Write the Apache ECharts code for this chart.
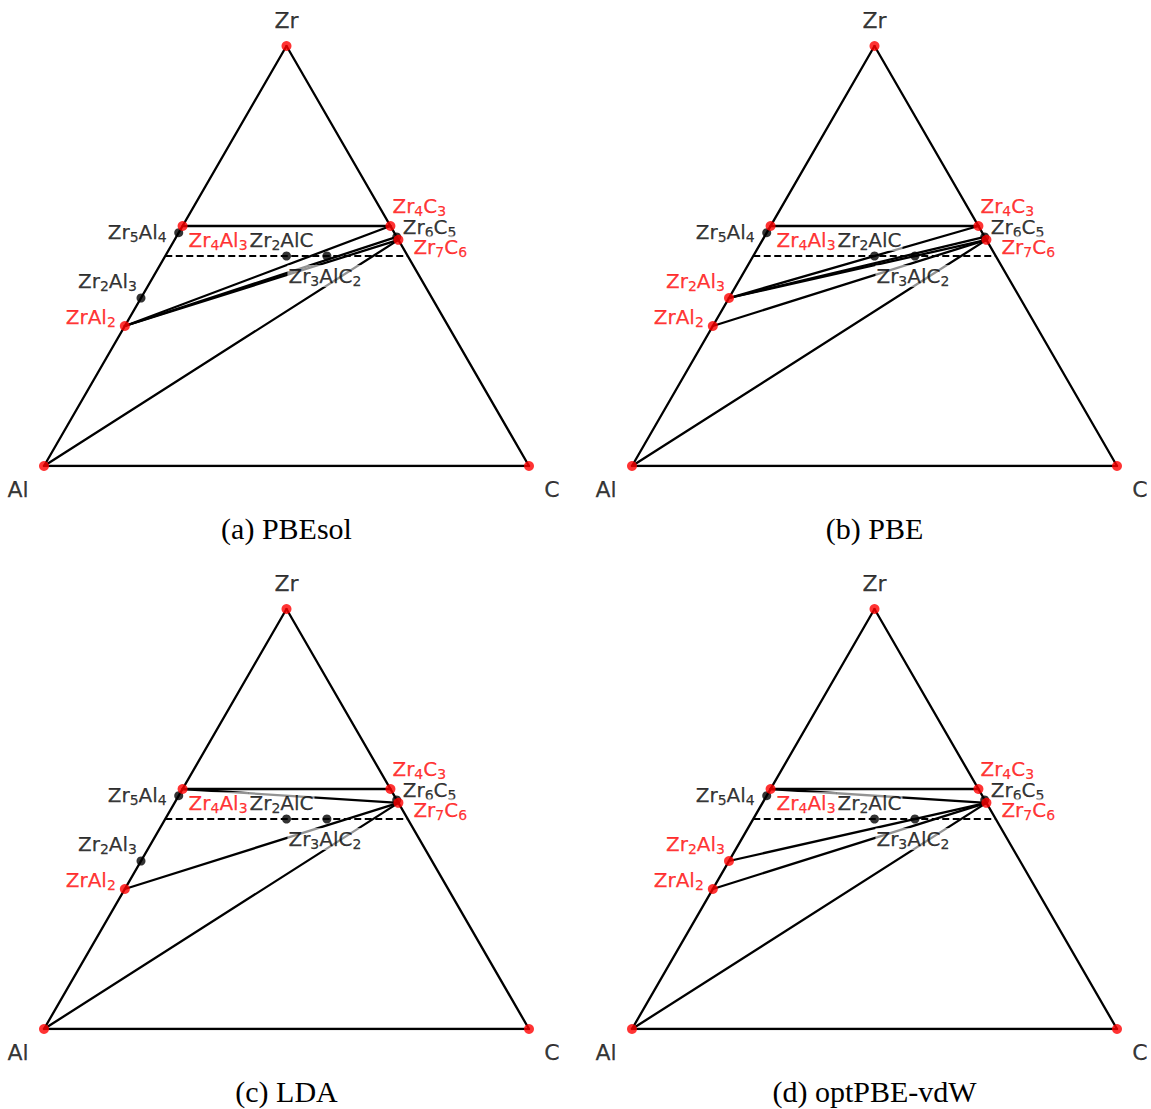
<!DOCTYPE html>
<html>
<head>
<meta charset="utf-8">
<script src="https://cdn.jsdelivr.net/npm/echarts@6/dist/echarts.min.js"></script>
<style>
  html, body { margin: 0; padding: 0; background: #fff; }
  #chart { width: 1151px; height: 1109px; }
</style>
</head>
<body>
<div id="chart"></div>
<script>
// Phases of the Zr–Al–C system and their atom counts (Zr, Al, C)
const phaseNames = ['Zr', 'Al', 'C', 'Zr5Al4', 'Zr4Al3', 'Zr2Al3', 'ZrAl2', 'Zr4C3', 'Zr6C5', 'Zr7C6', 'Zr2AlC', 'Zr3AlC2'];
const phaseZr    = [1, 0, 0, 5, 4, 2, 1, 4, 6, 7, 2, 3];
const phaseAl    = [0, 1, 0, 4, 3, 3, 2, 0, 0, 0, 1, 1];
const phaseC     = [0, 0, 1, 0, 0, 0, 0, 3, 5, 6, 1, 2];

const panelNames = ['(a) PBEsol', '(b) PBE', '(c) LDA', '(d) optPBE-vdW'];

// Phases on the convex hull for each functional
const stablePBEsol  = ['Zr', 'Al', 'C', 'Zr4Al3', 'ZrAl2', 'Zr4C3', 'Zr7C6'];
const stablePBE     = ['Zr', 'Al', 'C', 'Zr4Al3', 'Zr2Al3', 'ZrAl2', 'Zr4C3', 'Zr7C6'];
const stableLDA     = ['Zr', 'Al', 'C', 'Zr4Al3', 'ZrAl2', 'Zr4C3', 'Zr7C6'];
const stableOptPBE  = ['Zr', 'Al', 'C', 'Zr4Al3', 'Zr2Al3', 'ZrAl2', 'Zr4C3', 'Zr7C6'];

// Tie lines for each functional
const tiesPBEsol = [['Zr4Al3', 'Zr4C3'], ['ZrAl2', 'Zr4C3'], ['ZrAl2', 'Zr6C5'], ['ZrAl2', 'Zr7C6'], ['Al', 'Zr7C6']];
const tiesPBE    = [['Zr4Al3', 'Zr4C3'], ['Zr2Al3', 'Zr4C3'], ['Zr2Al3', 'Zr6C5'], ['Zr2Al3', 'Zr7C6'], ['ZrAl2', 'Zr7C6'], ['Al', 'Zr7C6']];
const tiesLDA    = [['Zr4Al3', 'Zr4C3'], ['Zr4Al3', 'Zr7C6'], ['ZrAl2', 'Zr7C6'], ['Al', 'Zr7C6']];
const tiesOptPBE = [['Zr4Al3', 'Zr4C3'], ['Zr4Al3', 'Zr7C6'], ['Zr2Al3', 'Zr7C6'], ['ZrAl2', 'Zr7C6'], ['Al', 'Zr7C6']];

// Triangle edges
const edges = [['Al', 'C'], ['C', 'Zr'], ['Zr', 'Al']];

// Reference line at 50 % Zr: from ZrAl (Zr, Al, C = 1,1,0) to ZrC (1,0,1)
const halfZrFrom = [1, 1, 0];
const halfZrTo   = [1, 0, 1];

const panelStable = [stablePBEsol, stablePBE, stableLDA, stableOptPBE];
const panelTies   = [tiesPBEsol, tiesPBE, tiesLDA, tiesOptPBE];

// ---- layout / styling ----
const gridPos = [[44, 46], [632, 46], [44, 609], [632, 609]];
const GW = 485, GH = 420;
const SQ = Math.sqrt(3) / 2;
const RED = '#ff0000', INK = '#000000';
const LABEL_FONT = 'DejaVu Sans';

// label anchor: [align, dx, dy] relative to the phase point
const labelPlace = {
  Zr: ['center', 0, -26], Al: ['center', -26, 23], C: ['center', 23, 23],
  Zr5Al4: ['right', -11, -1], Zr4Al3: ['left', 5, 14], Zr2Al3: ['right', -3, -17], ZrAl2: ['right', -8, -9],
  Zr4C3: ['left', 1, -20], Zr6C5: ['left', 5, -10], Zr7C6: ['left', 14, 7],
  Zr2AlC: ['center', -5, -16], Zr3AlC2: ['center', -2, 20]
};

function toXY(zr, al, c) {
  const t = zr + al + c;
  return [(c + zr / 2) / t, (zr / t) * SQ];
}
function phaseXY(name) {
  const i = phaseNames.indexOf(name);
  return toXY(phaseZr[i], phaseAl[i], phaseC[i]);
}
function richFormula(name) {
  return name.replace(/([A-Za-z]+)|(\d+)/g, (m, a, d) => a ? '{n|' + a + '}' : '{s|' + d + '}');
}
function richStyles(color, size) {
  const heavy = { textBorderColor: color, textBorderWidth: 0.25 };
  return {
    n: Object.assign({ fontSize: size, fontFamily: LABEL_FONT, color: color, lineHeight: size, verticalAlign: 'top' }, heavy),
    s: Object.assign({ fontSize: 14, fontFamily: LABEL_FONT, color: color, lineHeight: 14, verticalAlign: 'top', padding: [8, 0, 0, 0] }, heavy)
  };
}

const series = [];
const graphic = [];

panelNames.forEach((title, p) => {
  const stable = panelStable[p];
  const axis = { xAxisIndex: p, yAxisIndex: p };

  // solid lines: edges + tie lines
  const segs = edges.concat(panelTies[p]).map(pair => ({ coords: [phaseXY(pair[0]), phaseXY(pair[1])] }));
  series.push(Object.assign({
    type: 'lines', coordinateSystem: 'cartesian2d', silent: true, z: 2,
    lineStyle: { color: '#000', width: 2.3, opacity: 1, cap: 'round' },
    data: segs
  }, axis));

  // dashed 50 % Zr line
  series.push(Object.assign({
    type: 'lines', coordinateSystem: 'cartesian2d', silent: true, z: 2,
    lineStyle: { color: '#000', width: 2, opacity: 1, type: [7, 3.5] },
    data: [{ coords: [toXY.apply(null, halfZrFrom), toXY.apply(null, halfZrTo)] }]
  }, axis));

  // text labels (white translucent box behind formula)
  series.push(Object.assign({
    type: 'scatter', coordinateSystem: 'cartesian2d', silent: true, z: 3,
    symbolSize: 1, itemStyle: { color: 'rgba(0,0,0,0)' },
    data: phaseNames.map(name => {
      const isStable = stable.indexOf(name) >= 0;
      const isVertex = name === 'Zr' || name === 'Al' || name === 'C';
      const color = isVertex ? INK : (isStable ? RED : INK);
      const pl = labelPlace[name];
      return {
        value: phaseXY(name),
        label: {
          show: true, position: 'inside', align: pl[0], verticalAlign: 'middle',
          offset: [pl[1], pl[2]],
          formatter: richFormula(name), rich: richStyles(color, isVertex ? 22 : 20),
          backgroundColor: isVertex ? 'transparent' : 'rgba(255,255,255,0.72)',
          padding: [1, 1]
        }
      };
    })
  }, axis));

  // unstable (black) points, then stable (red) points on top
  series.push(Object.assign({
    type: 'scatter', coordinateSystem: 'cartesian2d', silent: true, z: 4,
    symbolSize: 9, itemStyle: { color: '#000' },
    data: phaseNames.filter(n => stable.indexOf(n) < 0).map(phaseXY)
  }, axis));
  series.push(Object.assign({
    type: 'scatter', coordinateSystem: 'cartesian2d', silent: true, z: 5,
    symbolSize: 10, itemStyle: { color: RED },
    data: stable.map(phaseXY)
  }, axis));

  graphic.push({
    type: 'text', silent: true,
    x: gridPos[p][0] + GW / 2, y: gridPos[p][1] + GH + 62,
    style: {
      text: title, fill: '#000', fontSize: 30, fontFamily: 'Liberation Serif',
      align: 'center', verticalAlign: 'middle', textAlign: 'center', textVerticalAlign: 'middle'
    }
  });
});

const option = {
  animation: false,
  backgroundColor: '#fff',
  grid: gridPos.map(g => ({ left: g[0], top: g[1], width: GW, height: GH })),
  xAxis: gridPos.map((g, i) => ({ gridIndex: i, type: 'value', min: 0, max: 1, show: false })),
  yAxis: gridPos.map((g, i) => ({ gridIndex: i, type: 'value', min: 0, max: SQ, show: false })),
  series: series,
  graphic: graphic
};

const chart = echarts.init(document.getElementById('chart'), null, { renderer: 'svg' });
chart.setOption(option);
</script>
</body>
</html>
